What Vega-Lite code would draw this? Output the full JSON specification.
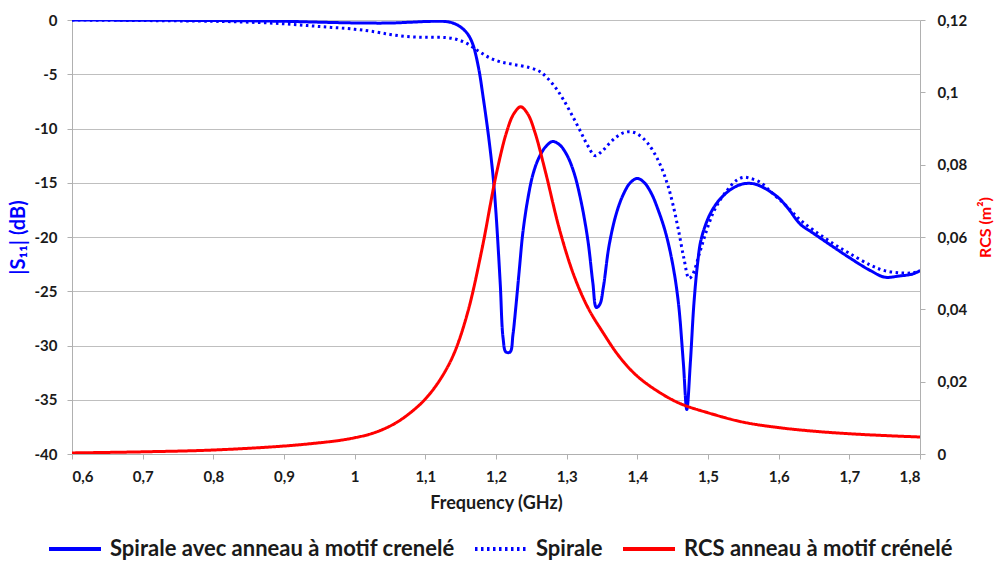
{
  "$schema": "https://vega.github.io/schema/vega-lite/v6.json",
  "width": 848,
  "height": 434,
  "autosize": {"type": "none"},
  "padding": {"left": 72, "top": 20, "right": 74, "bottom": 107},
  "background": "white",
  "config": {
    "view": {"stroke": null},
    "font": "Lato",
    "axis": {
      "labelFont": "Lato", "labelFontWeight": "bold", "labelFontSize": 15, "labelColor": "#1a1a1a",
      "titleFont": "Lato", "titleFontWeight": "bold", "titleFontSize": 15, "titleColor": "#1a1a1a",
      "domainColor": "#b0b0b0", "tickColor": "#b0b0b0", "tickSize": 5, "gridColor": "#bfbfbf", "gridWidth": 1
    },
    "legend": {
      "labelFont": "Lato", "labelFontWeight": "bold", "labelFontSize": 22, "labelColor": "#1a1a1a", "labelLimit": 600,
      "symbolType": "stroke", "symbolSize": 2704, "symbolStrokeWidth": 4, "columnPadding": 12, "labelOffset": 7
    }
  },
  "data": {"values": [
    {"f":0.6,"s":"Spirale avec anneau à motif crenelé","v":0},
    {"f":0.7,"s":"Spirale avec anneau à motif crenelé","v":-0.02},
    {"f":0.8,"s":"Spirale avec anneau à motif crenelé","v":-0.05},
    {"f":0.9,"s":"Spirale avec anneau à motif crenelé","v":-0.12},
    {"f":0.95,"s":"Spirale avec anneau à motif crenelé","v":-0.2},
    {"f":1.0,"s":"Spirale avec anneau à motif crenelé","v":-0.27},
    {"f":1.05,"s":"Spirale avec anneau à motif crenelé","v":-0.28},
    {"f":1.08,"s":"Spirale avec anneau à motif crenelé","v":-0.2},
    {"f":1.1,"s":"Spirale avec anneau à motif crenelé","v":-0.14},
    {"f":1.12,"s":"Spirale avec anneau à motif crenelé","v":-0.12},
    {"f":1.13,"s":"Spirale avec anneau à motif crenelé","v":-0.15},
    {"f":1.14,"s":"Spirale avec anneau à motif crenelé","v":-0.3},
    {"f":1.15,"s":"Spirale avec anneau à motif crenelé","v":-0.65},
    {"f":1.16,"s":"Spirale avec anneau à motif crenelé","v":-1.3},
    {"f":1.167,"s":"Spirale avec anneau à motif crenelé","v":-2.2},
    {"f":1.175,"s":"Spirale avec anneau à motif crenelé","v":-4.3},
    {"f":1.182,"s":"Spirale avec anneau à motif crenelé","v":-7.2},
    {"f":1.19,"s":"Spirale avec anneau à motif crenelé","v":-11},
    {"f":1.196,"s":"Spirale avec anneau à motif crenelé","v":-14.5},
    {"f":1.2,"s":"Spirale avec anneau à motif crenelé","v":-17.8},
    {"f":1.206,"s":"Spirale avec anneau à motif crenelé","v":-24.3},
    {"f":1.21,"s":"Spirale avec anneau à motif crenelé","v":-29.3},
    {"f":1.214,"s":"Spirale avec anneau à motif crenelé","v":-30.6},
    {"f":1.22,"s":"Spirale avec anneau à motif crenelé","v":-30.6},
    {"f":1.224,"s":"Spirale avec anneau à motif crenelé","v":-29},
    {"f":1.228,"s":"Spirale avec anneau à motif crenelé","v":-26.5},
    {"f":1.233,"s":"Spirale avec anneau à motif crenelé","v":-23},
    {"f":1.238,"s":"Spirale avec anneau à motif crenelé","v":-19.6},
    {"f":1.245,"s":"Spirale avec anneau à motif crenelé","v":-16.5},
    {"f":1.252,"s":"Spirale avec anneau à motif crenelé","v":-14.3},
    {"f":1.26,"s":"Spirale avec anneau à motif crenelé","v":-12.8},
    {"f":1.27,"s":"Spirale avec anneau à motif crenelé","v":-11.7},
    {"f":1.28,"s":"Spirale avec anneau à motif crenelé","v":-11.2},
    {"f":1.29,"s":"Spirale avec anneau à motif crenelé","v":-11.5},
    {"f":1.3,"s":"Spirale avec anneau à motif crenelé","v":-12.4},
    {"f":1.31,"s":"Spirale avec anneau à motif crenelé","v":-14},
    {"f":1.32,"s":"Spirale avec anneau à motif crenelé","v":-16.6},
    {"f":1.33,"s":"Spirale avec anneau à motif crenelé","v":-20.3},
    {"f":1.337,"s":"Spirale avec anneau à motif crenelé","v":-24.2},
    {"f":1.342,"s":"Spirale avec anneau à motif crenelé","v":-26.5},
    {"f":1.347,"s":"Spirale avec anneau à motif crenelé","v":-26.2},
    {"f":1.352,"s":"Spirale avec anneau à motif crenelé","v":-24.6},
    {"f":1.36,"s":"Spirale avec anneau à motif crenelé","v":-20.8},
    {"f":1.37,"s":"Spirale avec anneau à motif crenelé","v":-17.9},
    {"f":1.38,"s":"Spirale avec anneau à motif crenelé","v":-16.1},
    {"f":1.39,"s":"Spirale avec anneau à motif crenelé","v":-15},
    {"f":1.4,"s":"Spirale avec anneau à motif crenelé","v":-14.6},
    {"f":1.41,"s":"Spirale avec anneau à motif crenelé","v":-15.0},
    {"f":1.42,"s":"Spirale avec anneau à motif crenelé","v":-16.0},
    {"f":1.43,"s":"Spirale avec anneau à motif crenelé","v":-17.6},
    {"f":1.44,"s":"Spirale avec anneau à motif crenelé","v":-19.6},
    {"f":1.45,"s":"Spirale avec anneau à motif crenelé","v":-22.5},
    {"f":1.458,"s":"Spirale avec anneau à motif crenelé","v":-26},
    {"f":1.465,"s":"Spirale avec anneau à motif crenelé","v":-31.5},
    {"f":1.47,"s":"Spirale avec anneau à motif crenelé","v":-35.9},
    {"f":1.475,"s":"Spirale avec anneau à motif crenelé","v":-31.6},
    {"f":1.48,"s":"Spirale avec anneau à motif crenelé","v":-26.2},
    {"f":1.485,"s":"Spirale avec anneau à motif crenelé","v":-22.6},
    {"f":1.49,"s":"Spirale avec anneau à motif crenelé","v":-20.3},
    {"f":1.5,"s":"Spirale avec anneau à motif crenelé","v":-18.3},
    {"f":1.51,"s":"Spirale avec anneau à motif crenelé","v":-17.1},
    {"f":1.52,"s":"Spirale avec anneau à motif crenelé","v":-16.3},
    {"f":1.535,"s":"Spirale avec anneau à motif crenelé","v":-15.5},
    {"f":1.55,"s":"Spirale avec anneau à motif crenelé","v":-15.1},
    {"f":1.565,"s":"Spirale avec anneau à motif crenelé","v":-15.1},
    {"f":1.58,"s":"Spirale avec anneau à motif crenelé","v":-15.5},
    {"f":1.6,"s":"Spirale avec anneau à motif crenelé","v":-16.4},
    {"f":1.615,"s":"Spirale avec anneau à motif crenelé","v":-17.5},
    {"f":1.625,"s":"Spirale avec anneau à motif crenelé","v":-18.4},
    {"f":1.632,"s":"Spirale avec anneau à motif crenelé","v":-18.9},
    {"f":1.65,"s":"Spirale avec anneau à motif crenelé","v":-19.7},
    {"f":1.7,"s":"Spirale avec anneau à motif crenelé","v":-21.9},
    {"f":1.73,"s":"Spirale avec anneau à motif crenelé","v":-23.1},
    {"f":1.75,"s":"Spirale avec anneau à motif crenelé","v":-23.7},
    {"f":1.77,"s":"Spirale avec anneau à motif crenelé","v":-23.6},
    {"f":1.79,"s":"Spirale avec anneau à motif crenelé","v":-23.4},
    {"f":1.8,"s":"Spirale avec anneau à motif crenelé","v":-23.1},

    {"f":0.6,"s":"Spirale","v":0},
    {"f":0.7,"s":"Spirale","v":-0.05},
    {"f":0.8,"s":"Spirale","v":-0.12},
    {"f":0.85,"s":"Spirale","v":-0.2},
    {"f":0.9,"s":"Spirale","v":-0.35},
    {"f":0.95,"s":"Spirale","v":-0.6},
    {"f":1.0,"s":"Spirale","v":-0.85},
    {"f":1.03,"s":"Spirale","v":-1.1},
    {"f":1.05,"s":"Spirale","v":-1.33},
    {"f":1.07,"s":"Spirale","v":-1.5},
    {"f":1.09,"s":"Spirale","v":-1.58},
    {"f":1.11,"s":"Spirale","v":-1.6},
    {"f":1.13,"s":"Spirale","v":-1.62},
    {"f":1.145,"s":"Spirale","v":-1.8},
    {"f":1.16,"s":"Spirale","v":-2.2},
    {"f":1.175,"s":"Spirale","v":-2.85},
    {"f":1.19,"s":"Spirale","v":-3.45},
    {"f":1.206,"s":"Spirale","v":-3.85},
    {"f":1.225,"s":"Spirale","v":-4.1},
    {"f":1.248,"s":"Spirale","v":-4.4},
    {"f":1.262,"s":"Spirale","v":-4.75},
    {"f":1.272,"s":"Spirale","v":-5.3},
    {"f":1.285,"s":"Spirale","v":-6.3},
    {"f":1.295,"s":"Spirale","v":-7.3},
    {"f":1.307,"s":"Spirale","v":-8.7},
    {"f":1.319,"s":"Spirale","v":-10.2},
    {"f":1.33,"s":"Spirale","v":-11.6},
    {"f":1.34,"s":"Spirale","v":-12.5},
    {"f":1.35,"s":"Spirale","v":-12.1},
    {"f":1.36,"s":"Spirale","v":-11.4},
    {"f":1.37,"s":"Spirale","v":-10.8},
    {"f":1.38,"s":"Spirale","v":-10.4},
    {"f":1.39,"s":"Spirale","v":-10.3},
    {"f":1.4,"s":"Spirale","v":-10.5},
    {"f":1.414,"s":"Spirale","v":-11.3},
    {"f":1.43,"s":"Spirale","v":-13},
    {"f":1.442,"s":"Spirale","v":-15},
    {"f":1.45,"s":"Spirale","v":-16.9},
    {"f":1.458,"s":"Spirale","v":-19.3},
    {"f":1.466,"s":"Spirale","v":-22},
    {"f":1.473,"s":"Spirale","v":-23.8},
    {"f":1.478,"s":"Spirale","v":-23.5},
    {"f":1.488,"s":"Spirale","v":-21.5},
    {"f":1.498,"s":"Spirale","v":-19.4},
    {"f":1.51,"s":"Spirale","v":-17.4},
    {"f":1.527,"s":"Spirale","v":-15.7},
    {"f":1.54,"s":"Spirale","v":-14.8},
    {"f":1.55,"s":"Spirale","v":-14.5},
    {"f":1.56,"s":"Spirale","v":-14.6},
    {"f":1.575,"s":"Spirale","v":-15.0},
    {"f":1.59,"s":"Spirale","v":-15.9},
    {"f":1.612,"s":"Spirale","v":-17.2},
    {"f":1.63,"s":"Spirale","v":-18.4},
    {"f":1.65,"s":"Spirale","v":-19.4},
    {"f":1.677,"s":"Spirale","v":-20.6},
    {"f":1.7,"s":"Spirale","v":-21.5},
    {"f":1.73,"s":"Spirale","v":-22.6},
    {"f":1.75,"s":"Spirale","v":-23.1},
    {"f":1.772,"s":"Spirale","v":-23.3},
    {"f":1.79,"s":"Spirale","v":-23.3},
    {"f":1.8,"s":"Spirale","v":-23.1},

    {"f":0.6,"s":"RCS anneau à motif crénelé","v":0.0003},
    {"f":0.7,"s":"RCS anneau à motif crénelé","v":0.0006},
    {"f":0.8,"s":"RCS anneau à motif crénelé","v":0.0011},
    {"f":0.9,"s":"RCS anneau à motif crénelé","v":0.0022},
    {"f":0.95,"s":"RCS anneau à motif crénelé","v":0.0031},
    {"f":0.98,"s":"RCS anneau à motif crénelé","v":0.0038},
    {"f":1.0,"s":"RCS anneau à motif crénelé","v":0.0045},
    {"f":1.02,"s":"RCS anneau à motif crénelé","v":0.0054},
    {"f":1.04,"s":"RCS anneau à motif crénelé","v":0.0068},
    {"f":1.06,"s":"RCS anneau à motif crénelé","v":0.0088},
    {"f":1.08,"s":"RCS anneau à motif crénelé","v":0.0116},
    {"f":1.1,"s":"RCS anneau à motif crénelé","v":0.0152},
    {"f":1.12,"s":"RCS anneau à motif crénelé","v":0.0203},
    {"f":1.14,"s":"RCS anneau à motif crénelé","v":0.0275},
    {"f":1.16,"s":"RCS anneau à motif crénelé","v":0.0392},
    {"f":1.18,"s":"RCS anneau à motif crénelé","v":0.0565},
    {"f":1.2,"s":"RCS anneau à motif crénelé","v":0.077},
    {"f":1.215,"s":"RCS anneau à motif crénelé","v":0.089},
    {"f":1.225,"s":"RCS anneau à motif crénelé","v":0.094},
    {"f":1.235,"s":"RCS anneau à motif crénelé","v":0.096},
    {"f":1.245,"s":"RCS anneau à motif crénelé","v":0.094},
    {"f":1.255,"s":"RCS anneau à motif crénelé","v":0.089},
    {"f":1.27,"s":"RCS anneau à motif crénelé","v":0.078},
    {"f":1.29,"s":"RCS anneau à motif crénelé","v":0.062},
    {"f":1.31,"s":"RCS anneau à motif crénelé","v":0.0495},
    {"f":1.33,"s":"RCS anneau à motif crénelé","v":0.0405},
    {"f":1.35,"s":"RCS anneau à motif crénelé","v":0.034},
    {"f":1.375,"s":"RCS anneau à motif crénelé","v":0.0268},
    {"f":1.4,"s":"RCS anneau à motif crénelé","v":0.0215},
    {"f":1.43,"s":"RCS anneau à motif crénelé","v":0.0172},
    {"f":1.46,"s":"RCS anneau à motif crénelé","v":0.014},
    {"f":1.5,"s":"RCS anneau à motif crénelé","v":0.0114},
    {"f":1.55,"s":"RCS anneau à motif crénelé","v":0.0088},
    {"f":1.6,"s":"RCS anneau à motif crénelé","v":0.0073},
    {"f":1.65,"s":"RCS anneau à motif crénelé","v":0.0063},
    {"f":1.7,"s":"RCS anneau à motif crénelé","v":0.0056},
    {"f":1.75,"s":"RCS anneau à motif crénelé","v":0.0051},
    {"f":1.8,"s":"RCS anneau à motif crénelé","v":0.0047}
  ]},
  "layer": [
    {
      "transform": [{"filter": "datum.s !== 'RCS anneau à motif crénelé'"}],
      "mark": {"type": "line", "interpolate": "catmull-rom", "strokeWidth": 3, "clip": true},
      "encoding": {
        "x": {"field": "f", "type": "quantitative", "scale": {"domain": [0.6, 1.8], "nice": false},
          "axis": {"title": "Frequency (GHz)", "titleFontSize": 18, "values": [0.6,0.7,0.8,0.9,1,1.1,1.2,1.3,1.4,1.5,1.6,1.7,1.8],
            "labelExpr": "replace(datum.value + '', '.', ',')", "grid": false, "labelPadding": 10, "titleY": 49, "titleBaseline": "middle"}},
        "y": {"field": "v", "type": "quantitative", "scale": {"domain": [-40, 0], "nice": false},
          "axis": {"orient": "left", "title": "|S₁₁| (dB)", "titleColor": "#0000FF", "titleFontSize": 20, "values": [-40,-35,-30,-25,-20,-15,-10,-5,0],
            "labelExpr": "datum.value + ''", "grid": true, "labelPadding": 10,
            "titleAngle": -90, "titleX": -54, "titleY": 217, "titleAlign": "center", "titleBaseline": "middle"}},
        "color": {"field": "s", "type": "nominal",
          "scale": {"domain": ["Spirale avec anneau à motif crenelé", "Spirale", "RCS anneau à motif crénelé"], "range": ["#0000FF", "#0000FF", "#FF0000"]},
          "legend": {"title": null, "orient": "none", "direction": "horizontal", "legendX": -25, "legendY": 501}},
        "strokeDash": {"field": "s", "type": "nominal",
          "scale": {"domain": ["Spirale avec anneau à motif crenelé", "Spirale", "RCS anneau à motif crénelé"], "range": [[1, 0], [2.5, 3.5], [1, 0]]},
          "legend": {"title": null, "orient": "none", "direction": "horizontal", "legendX": -25, "legendY": 501}}
      }
    },
    {
      "transform": [{"filter": "datum.s === 'RCS anneau à motif crénelé'"}],
      "mark": {"type": "line", "interpolate": "catmull-rom", "strokeWidth": 3, "clip": true},
      "encoding": {
        "x": {"field": "f", "type": "quantitative"},
        "y": {"field": "v", "type": "quantitative", "scale": {"domain": [0, 0.12], "nice": false},
          "axis": {"orient": "right", "title": "RCS (m²)", "titleColor": "#FF0000", "titleFontSize": 16, "values": [0,0.02,0.04,0.06,0.08,0.1,0.12],
            "labelExpr": "replace(format(datum.value, '.2~f'), '.', ',')", "grid": false, "labelPadding": 12,
            "titleAngle": -90, "titleX": 65, "titleY": 207, "titleAlign": "center", "titleBaseline": "middle"}},
        "color": {"field": "s", "type": "nominal"},
        "strokeDash": {"field": "s", "type": "nominal"}
      }
    }
  ],
  "resolve": {"scale": {"y": "independent"}, "axis": {"y": "independent"}}
}
